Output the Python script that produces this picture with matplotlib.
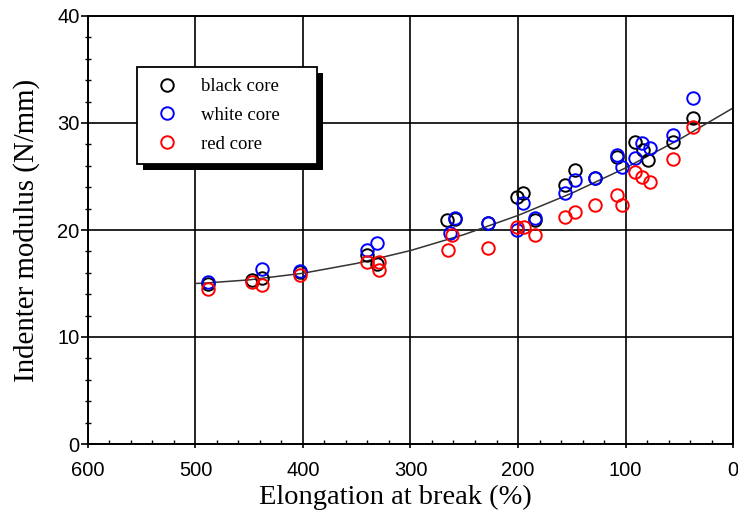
import matplotlib
matplotlib.use("Agg")
import matplotlib.pyplot as plt
from matplotlib.patches import Rectangle
from matplotlib.transforms import IdentityTransform
from matplotlib.ticker import MultipleLocator

# ---- data ----
black_x = [488, 447, 438, 403, 340, 331, 266, 259, 228, 201, 195, 184, 156, 147, 128, 108, 91, 84, 79, 56, 37]
black_y = [15.0, 15.3, 15.5, 16.1, 17.7, 16.8, 20.9, 21.0, 20.7, 23.1, 23.5, 20.9, 24.2, 25.6, 24.9, 26.8, 28.2, 27.5, 26.5, 28.2, 30.5]

white_x = [488, 438, 403, 340, 331, 263, 259, 228, 195, 201, 184, 156, 147, 128, 108, 103, 85, 77, 91, 56, 37]
white_y = [15.1, 16.4, 16.2, 18.1, 18.8, 19.7, 21.1, 20.7, 22.5, 20.0, 21.1, 23.5, 24.7, 24.9, 27.0, 25.9, 28.1, 27.7, 26.7, 28.9, 32.3]

red_x = [488, 447, 438, 403, 340, 329, 329, 265, 261, 228, 201, 194, 184, 156, 147, 128, 108, 103, 91, 85, 77, 56, 37]
red_y = [14.5, 15.1, 14.9, 15.8, 17.0, 17.0, 16.3, 18.1, 19.5, 18.3, 20.3, 20.3, 19.5, 21.2, 21.7, 22.3, 23.3, 22.3, 25.4, 25.0, 24.5, 26.6, 29.6]

fit_x = [500, 490, 450, 400, 350, 300, 250, 200, 150, 100, 50, 0]
fit_y = [15.0, 15.05, 15.34, 15.96, 16.88, 18.08, 19.58, 21.36, 23.44, 25.8, 28.46, 31.4]

series_labels = ["black core", "white core", "red core"]
series_colors = ["black", "#0000ff", "#ff0000"]

x_ticks = [600, 500, 400, 300, 200, 100, 0]
y_ticks = [0, 10, 20, 30, 40]

serif = ["Liberation Serif", "DejaVu Serif"]
sans = ["Liberation Sans", "DejaVu Sans"]

fig = plt.figure(figsize=(7.38, 5.12), dpi=100)
ax = fig.add_axes([88 / 738, 1 - 444 / 512, 645 / 738, 428 / 512])

ax.set_xlim(600, 0)
ax.set_ylim(0, 40)
ax.set_xticks(x_ticks)
ax.set_yticks(y_ticks)
ax.xaxis.set_minor_locator(MultipleLocator(20))
ax.yaxis.set_minor_locator(MultipleLocator(2))
ax.grid(True, which="major", color="black", linewidth=1.2)
ax.set_axisbelow(True)
for s in ax.spines.values():
    s.set_linewidth(1.4)

ax.tick_params(axis="x", which="major", direction="out", length=3, width=1.2, pad=9, labelsize=14.5)
ax.tick_params(axis="x", which="minor", direction="in", length=3, width=1.0)
ax.tick_params(axis="y", which="major", direction="out", length=5, width=1.2, pad=1, labelsize=14.5)
ax.tick_params(axis="y", which="minor", direction="inout", length=4, width=1.0)
for lab in ax.get_xticklabels() + ax.get_yticklabels():
    lab.set_family(sans)

ax.plot(fit_x, fit_y, color="#333333", linewidth=1.1, zorder=2)

handles = []
for xs, ys, lab, col in zip([black_x, white_x, red_x], [black_y, white_y, red_y], series_labels, series_colors):
    h, = ax.plot(xs, ys, linestyle="none", marker="o", markersize=9, markerfacecolor="none",
                 markeredgecolor=col, markeredgewidth=1.4, label=lab, zorder=3)
    handles.append(h)

ax.set_xlabel("Elongation at break (%)", family=serif, fontsize=20.5)
ax.set_ylabel("Indenter modulus (N/mm)", family=serif, fontsize=20.8)
ax.xaxis.set_label_coords(0.476, -0.096)
ax.yaxis.set_label_coords(-0.074, 0.5)

leg = ax.legend(handles=handles, loc="upper left", bbox_to_anchor=(0.076, 0.881, 0.279, 0.0),
                mode="expand", frameon=True, fancybox=False, framealpha=1.0,
                prop={"family": serif, "size": 13.5},
                borderpad=0.6, labelspacing=0.62, handlelength=2.0, handletextpad=0.8,
                borderaxespad=0.0)
leg.get_frame().set_edgecolor("black")
leg.get_frame().set_facecolor("white")
leg.get_frame().set_linewidth(1.3)
leg.set_zorder(6)

fig.canvas.draw()
bb = leg.get_window_extent()
shadow = Rectangle((bb.x0 + 6, bb.y0 - 6), bb.width, bb.height, transform=IdentityTransform(),
                   facecolor="black", edgecolor="none", zorder=5.5, clip_on=False)
ax.add_patch(shadow)

fig.savefig("out.png", dpi=100)
